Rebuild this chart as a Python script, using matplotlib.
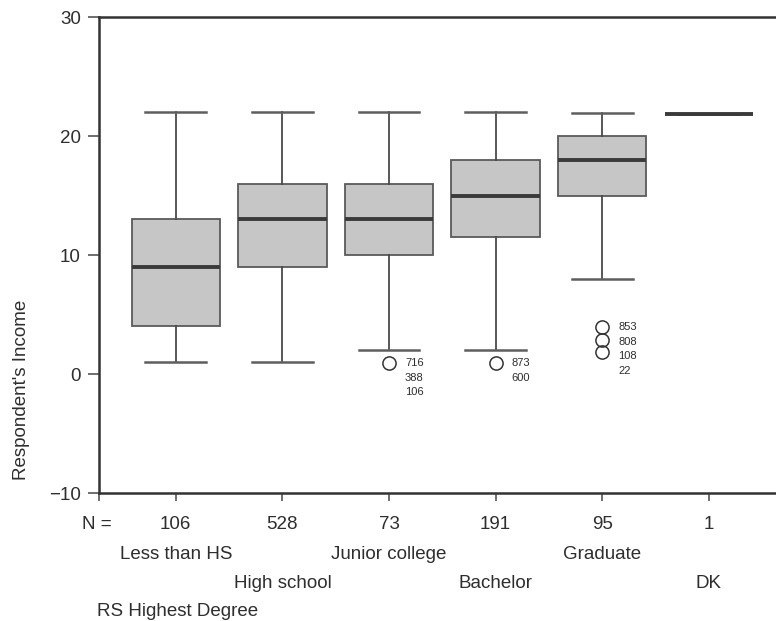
#!/usr/bin/env python3

import matplotlib
matplotlib.use('Agg')
import matplotlib.pyplot as plt
import matplotlib.transforms as mtransforms

plt.rcParams['font.family'] = ['Liberation Sans', 'DejaVu Sans']

# data
degrees = ['Less than HS', 'High school', 'Junior college', 'Bachelor', 'Graduate', 'DK']
n_counts = ['106', '528', '73', '191', '95', '1']
whislo = [1, 1, 2, 2, 8, 21.85]
q1 = [4, 9, 10, 11.5, 15, 21.85]
med = [9, 13, 13, 15, 18, 21.85]
q3 = [13, 16, 16, 18, 20, 21.85]
whishi = [22, 22, 22, 22, 21.9, 21.85]
outliers = [[], [], [0.9], [0.9], [3.95, 2.9, 1.85], []]
outlier_ids = [[], [], ['716', '388', '106'], ['873', '600'], ['853', '808', '108', '22'], []]

stats = []
for i in range(len(degrees)):
    stats.append(dict(whislo=whislo[i], q1=q1[i], med=med[i], q3=q3[i],
                      whishi=whishi[i], fliers=outliers[i], label=degrees[i]))

fig = plt.figure(figsize=(7.76, 6.21), dpi=100)
ax = fig.add_axes([0.1276, 0.2061, 0.8724, 0.7665])

positions = list(range(1, len(degrees) + 1))
line_col = '#4a4a4a'
txt_col = '#2e2e2e'
ax.bxp(stats, positions=positions, widths=0.83, patch_artist=True,
       boxprops=dict(facecolor='#c6c6c6', edgecolor='#5a5a5a', linewidth=1.3),
       medianprops=dict(color='#3a3a3a', linewidth=2.8),
       whiskerprops=dict(color=line_col, linewidth=1.3),
       capprops=dict(color='#5e5e5e', linewidth=1.8),
       capwidths=0.57,
       flierprops=dict(marker='o', markersize=9.5, markerfacecolor='none',
                       markeredgecolor='#333333', markeredgewidth=1.1))

# outlier case ids
for i, ids in enumerate(outlier_ids):
    if not ids:
        continue
    y0 = outliers[i][0]
    for k, s in enumerate(ids):
        ax.annotate(s, (positions[i], y0), xytext=(16, -k * 14.5), textcoords='offset pixels',
                    fontsize=8, color=txt_col, va='center', ha='left')

ax.set_xlim(0.28, 6.63)
ax.set_ylim(-10, 30)
ax.set_yticks([-10, 0, 10, 20, 30])
ax.set_yticklabels(['\u221210', '0', '10', '20', '30'])
ax.set_xticks([0.28] + positions)
ax.set_xticklabels([])
ax.tick_params(axis='y', direction='out', length=8, width=1.2, color='#555555',
               labelsize=13.5, labelcolor=txt_col, pad=5)
ax.tick_params(axis='x', direction='out', length=6, width=1.2, color='#555555')

for side in ['left', 'bottom', 'top']:
    ax.spines[side].set_linewidth(1.8)
    ax.spines[side].set_color('#333333')
ax.spines['right'].set_visible(False)

# N counts and staggered category names under the axis
trans = mtransforms.blended_transform_factory(ax.transData, ax.transAxes)
ax.text(0.40, -0.067, 'N =', transform=trans, ha='right', va='center',
        fontsize=13.5, color=txt_col)
for i, p in enumerate(positions):
    ax.text(p, -0.067, n_counts[i], transform=trans, ha='center', va='center',
            fontsize=13.5, color=txt_col)
    row_y = -0.130 if i % 2 == 0 else -0.191
    ax.text(p, row_y, degrees[i], transform=trans, ha='center', va='center',
            fontsize=13.5, color=txt_col)

fig.text(97 / 776, 1 - 612 / 621, 'RS Highest Degree', ha='left', va='center',
         fontsize=13.5, color=txt_col)
fig.text(22 / 776, 1 - 390 / 621, "Respondent's Income", rotation=90,
         ha='center', va='center', fontsize=13.5, color=txt_col)

fig.savefig('out.png', dpi=100)
